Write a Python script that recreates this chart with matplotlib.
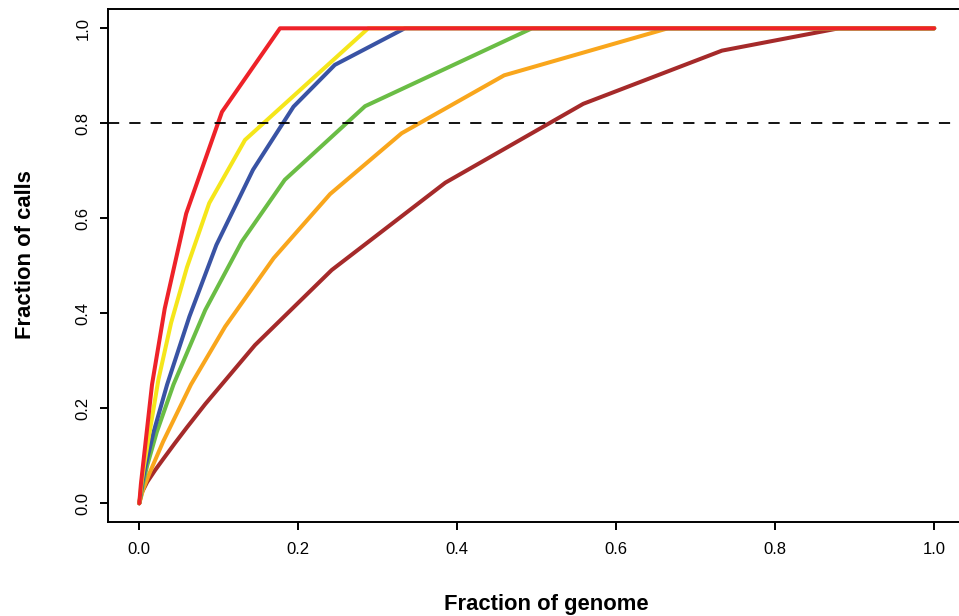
import matplotlib
matplotlib.use("Agg")
import matplotlib.pyplot as plt

plt.rcParams['font.family'] = ['Liberation Sans', 'DejaVu Sans']

# fraction of genome (x) vs fraction of calls (y), one curve per set
red_x = [0, 0.002, 0.004, 0.008, 0.016, 0.032, 0.059, 0.104, 0.177, 0.25, 0.333, 0.417,
         0.5, 0.583, 0.667, 0.75, 0.833, 0.917, 1.0]
red_y = [0, 0.04, 0.07, 0.13, 0.25, 0.41, 0.61, 0.824, 1.0, 1.0, 1.0, 1.0,
         1.0, 1.0, 1.0, 1.0, 1.0, 1.0, 1.0]

yellow_x = [0, 0.003, 0.006, 0.013, 0.024, 0.04, 0.060, 0.088, 0.133, 0.288, 1.0]
yellow_y = [0, 0.045, 0.08, 0.15, 0.26, 0.38, 0.497, 0.632, 0.765, 1.0, 1.0]

blue_x = [0, 0.004, 0.008, 0.018, 0.035, 0.063, 0.097, 0.143, 0.194, 0.246, 0.334, 1.0]
blue_y = [0, 0.045, 0.08, 0.15, 0.25, 0.393, 0.544, 0.702, 0.835, 0.923, 1.0, 1.0]

green_x = [0, 0.005, 0.01, 0.022, 0.043, 0.083, 0.129, 0.183, 0.284, 0.494, 1.0]
green_y = [0, 0.045, 0.08, 0.15, 0.25, 0.407, 0.551, 0.681, 0.836, 1.0, 1.0]

orange_x = [0, 0.005, 0.012, 0.03, 0.065, 0.108, 0.169, 0.240, 0.330, 0.459, 0.665, 1.0]
orange_y = [0, 0.03, 0.06, 0.13, 0.25, 0.372, 0.516, 0.651, 0.779, 0.901, 1.0, 1.0]

brown_x = [0, 0.003, 0.01, 0.02, 0.03, 0.045, 0.06, 0.083, 0.1455, 0.242, 0.385,
           0.5585, 0.733, 0.880, 1.0]
brown_y = [0, 0.022, 0.045, 0.07, 0.093, 0.127, 0.16, 0.209, 0.333, 0.491, 0.675,
           0.841, 0.953, 1.0, 1.0]

threshold = 0.8
ticks = [0.0, 0.2, 0.4, 0.6, 0.8, 1.0]
tick_labels = ["0.0", "0.2", "0.4", "0.6", "0.8", "1.0"]

series = [
    (brown_x, brown_y, "#A52A2A"),
    (orange_x, orange_y, "#F9A61C"),
    (green_x, green_y, "#6ABD45"),
    (blue_x, blue_y, "#3953A4"),
    (yellow_x, yellow_y, "#F5E61A"),
    (red_x, red_y, "#EE2229"),
]

fig = plt.figure(figsize=(9.59, 6.16), dpi=100)
# right edge of the plot region falls outside the picture, like the original
ax = fig.add_axes([107.5 / 959, 1 - 522.3 / 616, 858.5 / 959, 513 / 616])

for xs, ys, col in series:
    ax.plot(xs, ys, color=col, lw=2.9, solid_joinstyle='round', solid_capstyle='round')

ax.axhline(threshold, color='black', lw=1.3, dashes=(6.2, 5.6))

ax.set_xlim(-0.04, 1.04)
ax.set_ylim(-0.04, 1.04)
ax.set_xticks(ticks)
ax.set_xticklabels(tick_labels)
ax.set_yticks(ticks)
ax.set_yticklabels(tick_labels, rotation=90, va='center')

for side in ['left', 'bottom', 'top', 'right']:
    ax.spines[side].set_linewidth(1.4)

ax.tick_params(axis='both', direction='out', length=6, width=1.4, labelsize=12)
ax.tick_params(axis='x', pad=8)
ax.tick_params(axis='y', pad=6)

ax.set_xlabel("Fraction of genome", fontsize=15.8, fontweight='bold')
ax.set_ylabel("Fraction of calls", fontsize=15.8, fontweight='bold')
ax.xaxis.set_label_coords(0.5114, -0.16, transform=ax.transAxes)
ax.yaxis.set_label_coords(-0.096, 0.522, transform=ax.transAxes)
ax.xaxis.label.set_va('center')
ax.yaxis.label.set_va('center')

fig.savefig("out.png", dpi=100)
plt.close(fig)
